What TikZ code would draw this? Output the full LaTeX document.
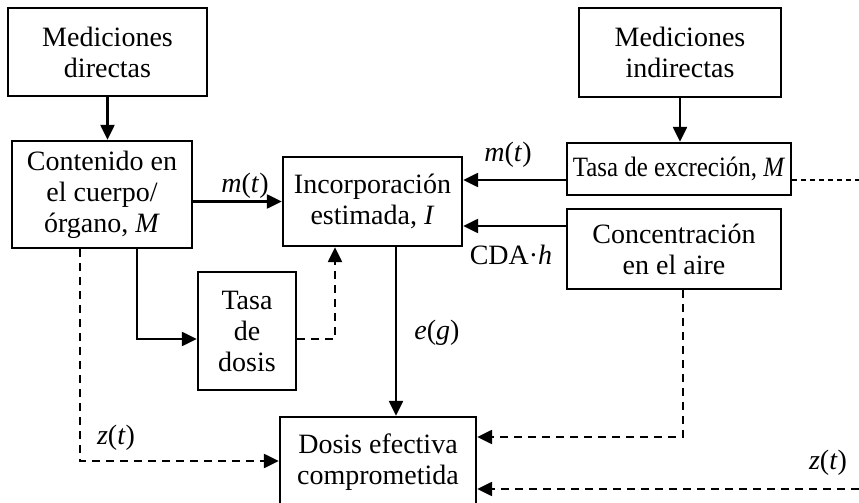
\documentclass[tikz,border=0pt]{standalone}
\usepackage{fontspec}
\usepackage{graphicx}
\setmainfont{Liberation Serif}
\usetikzlibrary{arrows.meta,calc}

\tikzset{
  caja/.style={draw, line width=1.2pt, align=center, inner sep=0pt,
    font=\fontsize{14}{15.5}\selectfont},
  etiq/.style={font=\fontsize{14}{15.5}\selectfont},
  flecha/.style={line width=1.2pt, -{Triangle[length=7.5pt,width=7pt]}},
  discont/.style={flecha, dash pattern=on 4pt off 3pt}
}

\begin{document}
\begin{tikzpicture}[x=0.5pt, y=-0.5pt]
  \clip (0,0) rectangle (859,503);

  % Cajas
  \node[caja, minimum width=99.5pt, minimum height=44pt] (dir) at (107.5,52) {Mediciones\\directas};
  \node[caja, minimum width=90pt, minimum height=53.5pt] (cont) at (102,194.5) {Contenido en\\el cuerpo/\\órgano, \textit{M}};
  \node[caja, minimum width=89.5pt, minimum height=44.5pt] (inc) at (372.5,201.5) {Incorporación\\estimada, \textit{I}};
  \node[caja, minimum width=101pt, minimum height=44.5pt] (ind) at (680,52.5) {Mediciones\\indirectas};
  \node[caja, minimum width=112pt, minimum height=26pt] (exc) at (679,169) {\scalebox{0.89}[1]{Tasa de excreción, \textit{M}}};
  \node[caja, minimum width=107pt, minimum height=40pt] (con) at (674,249) {Concentración\\en el aire};
  \node[caja, minimum width=49pt, minimum height=59pt] (tasa) at (247,331) {Tasa\\de\\dosis};
  \node[caja, minimum width=98pt, minimum height=45pt] (dos) at (378,462) {Dosis efectiva\\comprometida};

  % Puntos de quiebre
  \coordinate (excsal) at ($(exc.west)+(0,11)$);
  \coordinate (consal) at ($(con.west)+(0,-23)$);
  \coordinate (borde1) at (859,180);
  \coordinate (borde2) at (859,489);
  \coordinate (codo1) at (137,339);
  \coordinate (codo2) at (335,339);
  \coordinate (codo3) at (80,461);
  \coordinate (codo4) at (683,437);
  \coordinate (bajada) at (396,0);

  % Flechas continuas
  \draw[flecha] (dir.south) -- (cont.north -| dir.south);
  \draw[flecha] (ind.south) -- (exc.north -| ind.south);
  \draw[flecha] (cont.east |- inc.west) -- (inc.west);
  \draw[flecha] (excsal) -- (excsal -| inc.east);
  \draw[flecha] (consal) -- (consal -| inc.east);
  \draw[flecha] (cont.south -| codo1) |- (tasa.west |- codo1);
  \draw[flecha] (inc.south -| bajada) -- (dos.north -| bajada);

  % Flechas discontinuas
  \draw[discont] (tasa.east |- codo2) -| (inc.south -| codo2);
  \draw[discont] (cont.south -| codo3) |- (dos.west |- codo3);
  \draw[discont] (con.south -| codo4) |- (dos.east |- codo4);
  \draw[discont] (borde2) -- (dos.east |- borde2);
  \draw[line width=0.7pt, dash pattern=on 2.5pt off 2pt] (exc.east |- borde1) -- (borde1);

  % Etiquetas
  \node[etiq] (lm1) at (245,186) {\textit{m}(\textit{t})};
  \node[etiq] (lm2) at (508,155) {\textit{m}(\textit{t})};
  \node[etiq] (lcda) at (511,255) {CDA·\textit{h}};
  \node[etiq] (leg) at (437,333) {\textit{e}(\textit{g})};
  \node[etiq] (lz1) at (116,438) {\textit{z}(\textit{t})};
  \node[etiq] (lz2) at (828,463) {\textit{z}(\textit{t})};
\end{tikzpicture}
\end{document}
